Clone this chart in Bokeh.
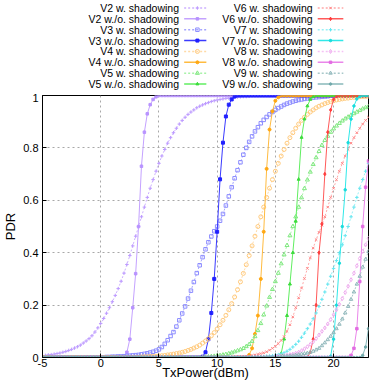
from bokeh.plotting import figure
from bokeh.models import Range1d, FixedTicker
from bokeh.layouts import column
from bokeh.embed import file_html
from bokeh.resources import INLINE
from bokeh.core.properties import value

# ---------------- data ----------------
X_MIN, X_MAX, STEP = -5.0, 23.0, 0.25
x_ticks = [-5, 0, 5, 10, 15, 20]
x_tick_labels = ["-5", "0", "5", "10", "15", "20"]
y_ticks = [0, 0.2, 0.4, 0.6, 0.8, 1]
y_tick_labels = ["0", "0.2", "0.4", "0.6", "0.8", "1"]

series_names = [
    "V2 w. shadowing", "V2 w./o. shadowing", "V3 w. shadowing", "V3 w./o. shadowing",
    "V4 w. shadowing", "V4 w./o. shadowing", "V5 w. shadowing", "V5 w./o. shadowing",
    "V6 w. shadowing", "V6 w./o. shadowing", "V7 w. shadowing", "V7 w./o. shadowing",
    "V8 w. shadowing", "V8 w./o. shadowing", "V9 w. shadowing", "V9 w./o. shadowing",
]

# first TxPower (dBm) of each listed run of PDR values (PDR is 0 before it, 1 after the list)
series_start = [-5.0, 2.0, 0.0, 8.75, 3.5, 12.75, 9.0, 15.5,
                11.5, 18.0, 13.75, 19.75, 15.0, 21.5, 15.5, 22.5]

v2_w = [0.007, 0.008, 0.010, 0.011, 0.013, 0.015, 0.017, 0.020, 0.023, 0.027, 0.031,
        0.036, 0.041, 0.047, 0.055, 0.063, 0.072, 0.083, 0.097, 0.113, 0.13, 0.149,
        0.169, 0.19, 0.213, 0.237, 0.263, 0.291, 0.322, 0.355, 0.389, 0.426, 0.463,
        0.5, 0.537, 0.574, 0.611, 0.646, 0.679, 0.711, 0.741, 0.769, 0.794, 0.818,
        0.839, 0.858, 0.875, 0.891, 0.905, 0.917, 0.928, 0.937, 0.945, 0.953,
        0.959, 0.964, 0.969, 0.973, 0.977, 0.980, 0.983, 0.985, 0.987, 0.989,
        0.990, 0.992, 0.993, 0.994, 0.995, 0.996, 0.996, 0.997]
v2_wo = [0.003, 0.02, 0.07, 0.19, 0.32, 0.5, 0.73, 0.86, 0.93, 0.965, 0.985, 0.995]

v3_w = [0.001, 0.001, 0.002, 0.002, 0.003, 0.003, 0.004, 0.004, 0.005, 0.006, 0.007,
        0.008, 0.009, 0.010, 0.012, 0.014, 0.016, 0.019, 0.022, 0.026, 0.031, 0.04,
        0.052, 0.066, 0.082, 0.097, 0.118, 0.142, 0.168, 0.195, 0.225, 0.255, 0.288,
        0.322, 0.352, 0.383, 0.413, 0.44, 0.462, 0.482, 0.5,
        0.522, 0.548, 0.58, 0.615, 0.65, 0.684, 0.715, 0.745, 0.774, 0.8, 0.823,
        0.844, 0.863, 0.879, 0.894, 0.907, 0.918, 0.928, 0.937, 0.945, 0.952,
        0.958, 0.964, 0.969, 0.973, 0.977, 0.980, 0.983, 0.985, 0.987, 0.989,
        0.991, 0.992, 0.993, 0.994, 0.995, 0.996, 0.997]
v3_wo = [0.003, 0.02, 0.07, 0.17, 0.3, 0.48, 0.68, 0.82, 0.92, 0.965, 0.985, 0.996]

v4_w = [0.002, 0.003, 0.003, 0.004, 0.004, 0.005, 0.006, 0.007, 0.008, 0.010, 0.011,
        0.013, 0.015, 0.017, 0.020, 0.023, 0.027, 0.031, 0.036, 0.041, 0.047, 0.055,
        0.063, 0.072, 0.083, 0.095, 0.109, 0.125, 0.142, 0.161, 0.182, 0.206, 0.231,
        0.259, 0.289, 0.321, 0.354, 0.389, 0.426, 0.463, 0.5,
        0.537, 0.574, 0.611, 0.646, 0.679, 0.711, 0.741, 0.769, 0.794, 0.818,
        0.839, 0.858, 0.875, 0.891, 0.905, 0.917, 0.928, 0.937, 0.945, 0.953,
        0.959, 0.964, 0.969, 0.973, 0.977, 0.980, 0.983, 0.985, 0.987, 0.989,
        0.990, 0.992, 0.993, 0.994, 0.995, 0.996, 0.996, 0.997]
v4_wo = [0.01, 0.035, 0.09, 0.16, 0.3, 0.48, 0.72, 0.87, 0.94, 0.98, 0.993]

v5_w = [0.002, 0.003, 0.004, 0.005, 0.007, 0.008, 0.010, 0.012, 0.015, 0.018, 0.022,
        0.026, 0.030, 0.035, 0.042, 0.05, 0.062, 0.08, 0.103, 0.13, 0.163, 0.197,
        0.23, 0.26, 0.29, 0.322, 0.358, 0.392, 0.428, 0.465, 0.5,
        0.537, 0.574, 0.61, 0.645, 0.678, 0.708, 0.737, 0.763, 0.787, 0.81, 0.829,
        0.845, 0.86, 0.873, 0.884, 0.894, 0.903, 0.911, 0.918, 0.925, 0.931, 0.937,
        0.943, 0.949, 0.954, 0.958]
v5_wo = [0.015, 0.07, 0.16, 0.28, 0.4, 0.52, 0.68, 0.84, 0.91, 0.96, 0.985, 0.995]

v6_w = [0.002, 0.003, 0.003, 0.004, 0.005, 0.006, 0.008, 0.010, 0.012, 0.015, 0.018,
        0.022, 0.028, 0.035, 0.043, 0.053, 0.065, 0.08, 0.1, 0.125, 0.155, 0.19,
        0.228, 0.265, 0.302, 0.34, 0.38, 0.418, 0.45, 0.478, 0.505,
        0.537, 0.574, 0.611, 0.646, 0.679, 0.711, 0.741, 0.769, 0.794, 0.818,
        0.839, 0.858, 0.875, 0.891, 0.905, 0.917]
v6_wo = [0.02, 0.07, 0.2, 0.4, 0.51, 0.7, 0.86, 0.945, 0.985, 0.997]

v7_w = [0.003, 0.004, 0.005, 0.006, 0.007, 0.009, 0.011, 0.014, 0.018, 0.024, 0.031,
        0.04, 0.05, 0.062, 0.077, 0.093, 0.11, 0.128, 0.148, 0.17, 0.195, 0.222,
        0.25, 0.28, 0.31, 0.34, 0.37, 0.4, 0.43, 0.465, 0.5,
        0.537, 0.574, 0.611, 0.646, 0.679, 0.711, 0.741]
v7_wo = [0.005, 0.07, 0.2, 0.36, 0.5, 0.64, 0.82, 0.91, 0.96, 0.987, 0.996]

v8_w = [0.004, 0.005, 0.006, 0.007, 0.009, 0.011, 0.013, 0.016, 0.02, 0.026, 0.033,
        0.041, 0.05, 0.06, 0.072, 0.086, 0.1, 0.113, 0.128, 0.145, 0.163, 0.182,
        0.203, 0.225, 0.248, 0.272, 0.297, 0.322, 0.35, 0.378, 0.405, 0.43, 0.455]
v8_wo = [0.008, 0.035, 0.11, 0.29, 0.5, 0.65, 0.75]

v9_w = [0.003, 0.004, 0.005, 0.006, 0.007, 0.009, 0.011, 0.013, 0.015, 0.017, 0.02,
        0.024, 0.029, 0.035, 0.045, 0.056, 0.068, 0.081, 0.095, 0.11, 0.127, 0.147,
        0.17, 0.195, 0.222, 0.25, 0.28, 0.31, 0.345, 0.375, 0.405]
v9_wo = [0.008, 0.04, 0.11]

series_values = [v2_w, v2_wo, v3_w, v3_wo, v4_w, v4_wo, v5_w, v5_wo,
                 v6_w, v6_wo, v7_w, v7_wo, v8_w, v8_wo, v9_w, v9_wo]

# ---------------- styles ----------------
styles = [
    # line color, dash, marker, marker color, filled, size
    ("#cdb0ff", "2 2", "cross", "#bd9bff", False, 3.5),
    ("#c4a2ff", "solid", "square", "#b893ff", True, 2.5),
    ("#a4a4ff", "2 2", "square", "#8c8cff", False, 3.5),
    ("#3a3aff", "solid", "square", "#2020ff", True, 3),
    ("#ffdaa6", "2 2", "circle", "#ffca7c", False, 4),
    ("#ffbb40", "solid", "circle", "#ffa812", True, 3),
    ("#a8f2a8", "2 2", "triangle", "#80e880", False, 4),
    ("#60ee60", "solid", "triangle", "#3cdc3c", True, 3),
    ("#ffa8a8", "2 2", "x", "#ff8686", False, 3.5),
    ("#ff5a5a", "solid", "diamond", "#ff3c3c", True, 3.5),
    ("#98f0f6", "2 2", "cross", "#66e6f0", False, 3.5),
    ("#30e8e8", "solid", "circle", "#18dcdc", True, 2.5),
    ("#f5c2f5", "2 2", "diamond", "#eeaaee", False, 4),
    ("#ea86ea", "solid", "square", "#e26ce2", True, 2.5),
    ("#a8c8ca", "2 2", "triangle", "#90b8bc", False, 3.5),
    ("#88b8ba", "solid", "circle", "#72aaac", True, 2.5),
]

FONT = "Liberation Sans"

n_pts = int(round((X_MAX - X_MIN) / STEP)) + 1
txpower = [X_MIN + STEP * i for i in range(n_pts)]


def full_series(start, vals):
    nb = int(round((start - X_MIN) / STEP))
    na = n_pts - nb - len(vals)
    assert na >= 0, (start, len(vals))
    return [0.0] * nb + list(vals) + [1.0] * na


# ---------------- main plot ----------------
p = figure(width=382, height=289, x_range=Range1d(X_MIN, X_MAX), y_range=Range1d(0, 1),
           output_backend="svg", toolbar_location=None,
           min_border_left=36, min_border_right=14, min_border_top=2, min_border_bottom=25)
p.outline_line_color = "black"
p.outline_line_width = 1
p.outline_line_alpha = 1.0

p.xaxis.ticker = FixedTicker(ticks=x_ticks)
p.yaxis.ticker = FixedTicker(ticks=y_ticks)
p.xaxis.major_label_overrides = dict(zip(x_ticks, x_tick_labels))
p.yaxis.major_label_overrides = dict(zip(y_ticks, y_tick_labels))
p.xaxis.axis_label = "TxPower(dBm)"
p.yaxis.axis_label = "PDR"
for ax in (p.xaxis, p.yaxis):
    ax.major_tick_in = 4
    ax.major_tick_out = 0
    ax.minor_tick_in = 0
    ax.minor_tick_out = 0
    ax.axis_line_color = "black"
    ax.major_tick_line_color = "black"
    ax.major_label_text_font = FONT
    ax.major_label_text_font_size = "11px"
    ax.major_label_text_color = "black"
    ax.axis_label_text_font = FONT
    ax.axis_label_text_font_size = "13px"
    ax.axis_label_text_font_style = "normal"
    ax.axis_label_text_color = "black"
p.xaxis.major_label_standoff = 1
p.xaxis.axis_label_standoff = -5
p.yaxis.major_label_standoff = 4
p.yaxis.axis_label_standoff = 2

for g in (p.xgrid, p.ygrid):
    g.grid_line_color = "#a8a8a8"
    g.grid_line_dash = "2 3"
    g.grid_line_width = 1

for name, start, vals, st in zip(series_names, series_start, series_values, styles):
    lc, dash, mk, mc, filled, sz = st
    y = full_series(start, vals)
    p.line(txpower, y, line_color=lc, line_width=1, line_dash=dash)
    p.scatter(txpower, y, marker=mk, size=sz, line_color=mc, line_width=1,
              fill_color=mc if filled else None)

# ---------------- legend (drawn as its own strip) ----------------
lg = figure(width=382, height=93, x_range=Range1d(0, 382), y_range=Range1d(93, 0),
            output_backend="svg", toolbar_location=None, min_border=0,
            x_axis_type=None, y_axis_type=None)
lg.outline_line_color = None
lg.grid.visible = False

rows_per_col = 8
text_right = [160, 316.5]
sample_x0 = [166, 322.5]
sample_x1 = [192, 352.5]
marker_x = [181.5, 337.5]
row_y0, row_dy = 7.5, 10.86

for i, (name, st) in enumerate(zip(series_names, styles)):
    lc, dash, mk, mc, filled, sz = st
    c, r = divmod(i, rows_per_col)
    yy = row_y0 + r * row_dy
    lg.text([text_right[c]], [yy], text=[name], text_align="right", text_baseline="middle",
            text_font=value(FONT), text_font_size=value("10.5px"), text_color="black")
    lg.line([sample_x0[c], sample_x1[c]], [yy, yy], line_color=lc, line_width=1.5, line_dash=dash)
    lg.scatter([marker_x[c]], [yy], marker=mk, size=sz, line_color=mc, line_width=1,
               fill_color=mc if filled else None)

layout = column(lg, p, spacing=0)
open("out.html", "w").write(file_html(layout, INLINE))
